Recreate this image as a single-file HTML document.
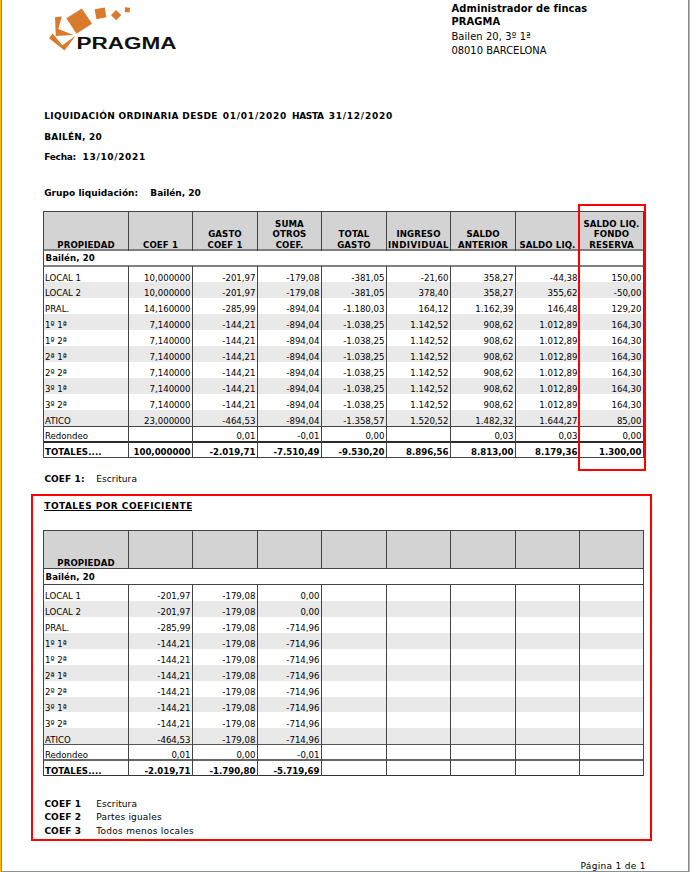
<!DOCTYPE html>
<html lang="es">
<head>
<meta charset="utf-8">
<title>Liquidación ordinaria</title>
<style>
html,body{margin:0;padding:0;background:#fff;}
body{width:690px;height:872px;position:relative;overflow:hidden;color:#000;}
#pg{position:absolute;left:0;top:0;width:690px;height:872px;overflow:hidden;background:#fff;}
#pg div{position:absolute;}
#pg span{position:absolute;white-space:pre;line-height:20px;margin-top:-13px;}
.t{font-family:"DejaVu Sans Condensed","DejaVu Sans","Liberation Sans",sans-serif;font-size:9.55px;}
.tb{font-family:"DejaVu Sans Condensed","DejaVu Sans","Liberation Sans",sans-serif;font-size:9.55px;font-weight:bold;letter-spacing:0.1px;}
.tb.n{letter-spacing:0;}
.h{font-family:"DejaVu Sans Condensed","DejaVu Sans","Liberation Sans",sans-serif;font-size:11px;}
.hb{font-family:"DejaVu Sans Condensed","DejaVu Sans","Liberation Sans",sans-serif;font-size:11px;font-weight:bold;}
.v{font-family:"DejaVu Sans","Liberation Sans",sans-serif;font-size:9px;}
.vb{font-family:"DejaVu Sans","Liberation Sans",sans-serif;font-size:9px;font-weight:bold;}
.red{border:2px solid #f00;box-sizing:border-box;}
svg{position:absolute;left:0;top:0;}
</style>
</head>
<body>
<div id="pg">
<div style="left:0px;top:0px;width:1px;height:872px;background:#feb808;"></div>
<div style="left:1px;top:0px;width:1px;height:872px;background:#808a9b;"></div>
<div style="left:688px;top:0px;width:1px;height:872px;background:#808a9b;"></div>
<div style="left:689px;top:0px;width:1px;height:872px;background:#feb80a;"></div>
<div style="left:1px;top:871px;width:688px;height:1px;background:#898f9b;"></div>
<svg width="200" height="70" viewBox="0 0 200 70">
<g fill="#d97a2c">
<polygon points="81.7,8.9 91.6,23.6 76.6,33.3 66.8,18.4" stroke="#d97a2c" stroke-width="0.8" stroke-linejoin="round"/>
<polygon points="94.6,9.2 104.8,7.4 106.3,17.3 96.5,19.3"/>
<polygon points="115.9,9.9 121.3,14.9 116.2,20.2 111.0,15.2"/>
<polygon points="125.0,7.2 130.0,7.7 129.6,12.6 124.8,12.1"/>
<polygon points="55.0,17.3 61.9,16.5 58.3,28.9 73.3,34.9 55.8,35.9"/>
<polygon points="52.6,33.4 49.0,38.2 64.5,50.4 75.6,35.8 62.3,45.3"/>
</g>
<text x="76.4" y="48.5" font-family="Liberation Sans, sans-serif" font-weight="bold" font-size="15.6" fill="#111" textLength="100.2" lengthAdjust="spacingAndGlyphs">PRAGMA</text>
</svg>
<span class="hb" style="left:451.6px;letter-spacing:0.085px;top:11.5px;">Administrador de fincas</span>
<span class="hb" style="left:451.4px;letter-spacing:0.144px;top:25.4px;">PRAGMA</span>
<span class="h" style="left:451.4px;letter-spacing:0.102px;top:39.8px;">Bailen 20, 3º 1ª</span>
<span class="h" style="left:451.4px;letter-spacing:0.031px;top:53.7px;">08010 BARCELONA</span>
<span class="vb" style="left:44.2px;letter-spacing:0.353px;top:118.8px;">LIQUIDACIÓN ORDINARIA DESDE</span>
<span class="vb" style="left:222.7px;letter-spacing:0.772px;top:118.8px;">01/01/2020</span>
<span class="vb" style="left:292.0px;letter-spacing:-0.348px;top:118.8px;">HASTA</span>
<span class="vb" style="left:328.7px;letter-spacing:0.761px;top:118.8px;">31/12/2020</span>
<span class="vb" style="left:44.2px;letter-spacing:0.204px;top:139.8px;">BAILÉN, 20</span>
<span class="vb" style="left:44.2px;letter-spacing:-0.26px;top:160.1px;">Fecha:</span>
<span class="vb" style="left:82.6px;letter-spacing:0.661px;top:160.1px;">13/10/2021</span>
<span class="vb" style="left:44.2px;letter-spacing:0.045px;top:196.2px;">Grupo liquidación:</span>
<span class="vb" style="left:150.3px;letter-spacing:-0.03px;top:196.2px;">Bailén, 20</span>
<div style="left:43px;top:211px;width:601px;height:39px;background:#d3d3d3;"></div>
<div style="left:43px;top:282px;width:601px;height:16px;background:#e9e9e9;"></div>
<div style="left:43px;top:314px;width:601px;height:16px;background:#e9e9e9;"></div>
<div style="left:43px;top:346px;width:601px;height:16px;background:#e9e9e9;"></div>
<div style="left:43px;top:378px;width:601px;height:16px;background:#e9e9e9;"></div>
<div style="left:43px;top:410px;width:601px;height:16px;background:#e9e9e9;"></div>
<div style="left:43px;top:211px;width:601px;height:1px;background:#444;"></div>
<div style="left:43px;top:249px;width:601px;height:2px;background:#808080;"></div>
<div style="left:43px;top:265px;width:601px;height:2px;background:#808080;"></div>
<div style="left:43px;top:426px;width:601px;height:1px;background:#444;"></div>
<div style="left:43px;top:441px;width:601px;height:2px;background:#2a2a2a;"></div>
<div style="left:43px;top:457px;width:601px;height:1px;background:#444;"></div>
<div style="left:43px;top:211px;width:1px;height:247px;background:#444;"></div>
<div style="left:128px;top:211px;width:1px;height:40px;background:#444;"></div>
<div style="left:128px;top:266px;width:1px;height:192px;background:#444;"></div>
<div style="left:192px;top:211px;width:1px;height:40px;background:#444;"></div>
<div style="left:192px;top:266px;width:1px;height:192px;background:#444;"></div>
<div style="left:257px;top:211px;width:1px;height:40px;background:#444;"></div>
<div style="left:257px;top:266px;width:1px;height:192px;background:#444;"></div>
<div style="left:321px;top:211px;width:1px;height:40px;background:#444;"></div>
<div style="left:321px;top:266px;width:1px;height:192px;background:#444;"></div>
<div style="left:386px;top:211px;width:1px;height:40px;background:#444;"></div>
<div style="left:386px;top:266px;width:1px;height:192px;background:#444;"></div>
<div style="left:450px;top:211px;width:1px;height:40px;background:#444;"></div>
<div style="left:450px;top:266px;width:1px;height:192px;background:#444;"></div>
<div style="left:515px;top:211px;width:1px;height:40px;background:#444;"></div>
<div style="left:515px;top:266px;width:1px;height:192px;background:#444;"></div>
<div style="left:579px;top:211px;width:1px;height:40px;background:#444;"></div>
<div style="left:579px;top:266px;width:1px;height:192px;background:#444;"></div>
<div style="left:643px;top:211px;width:1px;height:247px;background:#444;"></div>
<span class="tb" style="left:-14.0px;width:200px;text-align:center;top:248px;">PROPIEDAD</span>
<span class="tb" style="left:60.5px;width:200px;text-align:center;top:248px;">COEF 1</span>
<span class="tb" style="left:125.0px;width:200px;text-align:center;top:237px;">GASTO</span>
<span class="tb" style="left:125.0px;width:200px;text-align:center;top:248px;">COEF 1</span>
<span class="tb" style="left:189.5px;width:200px;text-align:center;top:226.6px;">SUMA</span>
<span class="tb" style="left:189.5px;width:200px;text-align:center;top:237px;">OTROS</span>
<span class="tb" style="left:189.5px;width:200px;text-align:center;top:248px;">COEF.</span>
<span class="tb" style="left:254.0px;width:200px;text-align:center;top:237px;">TOTAL</span>
<span class="tb" style="left:254.0px;width:200px;text-align:center;top:248px;">GASTO</span>
<span class="tb" style="left:318.5px;width:200px;text-align:center;top:237px;">INGRESO</span>
<span class="tb" style="left:318.5px;width:200px;text-align:center;letter-spacing:0.457px;top:248px;">INDIVIDUAL</span>
<span class="tb" style="left:383.0px;width:200px;text-align:center;top:237px;">SALDO</span>
<span class="tb" style="left:383.0px;width:200px;text-align:center;top:248px;">ANTERIOR</span>
<span class="tb" style="left:447.5px;width:200px;text-align:center;top:248px;">SALDO LIQ.</span>
<span class="tb" style="left:511.5px;width:200px;text-align:center;top:226.6px;">SALDO LIQ.</span>
<span class="tb" style="left:511.5px;width:200px;text-align:center;top:237px;">FONDO</span>
<span class="tb" style="left:511.5px;width:200px;text-align:center;top:248px;">RESERVA</span>
<span class="tb" style="left:45.5px;top:261px;">Bailén, 20</span>
<span class="t" style="left:45px;top:280.7px;">LOCAL 1</span>
<span class="t n" style="right:499.5px;top:280.7px;">10,000000</span>
<span class="t n" style="right:434.5px;top:280.7px;">-201,97</span>
<span class="t n" style="right:370.5px;top:280.7px;">-179,08</span>
<span class="t n" style="right:305.5px;top:280.7px;">-381,05</span>
<span class="t n" style="right:241.5px;top:280.7px;">-21,60</span>
<span class="t n" style="right:176.5px;top:280.7px;">358,27</span>
<span class="t n" style="right:112.5px;top:280.7px;">-44,38</span>
<span class="t n" style="right:48.5px;top:280.7px;">150,00</span>
<span class="t" style="left:45px;top:295.7px;">LOCAL 2</span>
<span class="t n" style="right:499.5px;top:295.7px;">10,000000</span>
<span class="t n" style="right:434.5px;top:295.7px;">-201,97</span>
<span class="t n" style="right:370.5px;top:295.7px;">-179,08</span>
<span class="t n" style="right:305.5px;top:295.7px;">-381,05</span>
<span class="t n" style="right:241.5px;top:295.7px;">378,40</span>
<span class="t n" style="right:176.5px;top:295.7px;">358,27</span>
<span class="t n" style="right:112.5px;top:295.7px;">355,62</span>
<span class="t n" style="right:48.5px;top:295.7px;">-50,00</span>
<span class="t" style="left:45px;top:311.8px;">PRAL.</span>
<span class="t n" style="right:499.5px;top:311.8px;">14,160000</span>
<span class="t n" style="right:434.5px;top:311.8px;">-285,99</span>
<span class="t n" style="right:370.5px;top:311.8px;">-894,04</span>
<span class="t n" style="right:305.5px;top:311.8px;">-1.180,03</span>
<span class="t n" style="right:241.5px;top:311.8px;">164,12</span>
<span class="t n" style="right:176.5px;top:311.8px;">1.162,39</span>
<span class="t n" style="right:112.5px;top:311.8px;">146,48</span>
<span class="t n" style="right:48.5px;top:311.8px;">129,20</span>
<span class="t" style="left:45px;top:327.7px;">1º 1ª</span>
<span class="t n" style="right:499.5px;top:327.7px;">7,140000</span>
<span class="t n" style="right:434.5px;top:327.7px;">-144,21</span>
<span class="t n" style="right:370.5px;top:327.7px;">-894,04</span>
<span class="t n" style="right:305.5px;top:327.7px;">-1.038,25</span>
<span class="t n" style="right:241.5px;top:327.7px;">1.142,52</span>
<span class="t n" style="right:176.5px;top:327.7px;">908,62</span>
<span class="t n" style="right:112.5px;top:327.7px;">1.012,89</span>
<span class="t n" style="right:48.5px;top:327.7px;">164,30</span>
<span class="t" style="left:45px;top:343.7px;">1º 2ª</span>
<span class="t n" style="right:499.5px;top:343.7px;">7,140000</span>
<span class="t n" style="right:434.5px;top:343.7px;">-144,21</span>
<span class="t n" style="right:370.5px;top:343.7px;">-894,04</span>
<span class="t n" style="right:305.5px;top:343.7px;">-1.038,25</span>
<span class="t n" style="right:241.5px;top:343.7px;">1.142,52</span>
<span class="t n" style="right:176.5px;top:343.7px;">908,62</span>
<span class="t n" style="right:112.5px;top:343.7px;">1.012,89</span>
<span class="t n" style="right:48.5px;top:343.7px;">164,30</span>
<span class="t" style="left:45px;top:359.6px;">2ª 1ª</span>
<span class="t n" style="right:499.5px;top:359.6px;">7,140000</span>
<span class="t n" style="right:434.5px;top:359.6px;">-144,21</span>
<span class="t n" style="right:370.5px;top:359.6px;">-894,04</span>
<span class="t n" style="right:305.5px;top:359.6px;">-1.038,25</span>
<span class="t n" style="right:241.5px;top:359.6px;">1.142,52</span>
<span class="t n" style="right:176.5px;top:359.6px;">908,62</span>
<span class="t n" style="right:112.5px;top:359.6px;">1.012,89</span>
<span class="t n" style="right:48.5px;top:359.6px;">164,30</span>
<span class="t" style="left:45px;top:375.6px;">2º 2ª</span>
<span class="t n" style="right:499.5px;top:375.6px;">7,140000</span>
<span class="t n" style="right:434.5px;top:375.6px;">-144,21</span>
<span class="t n" style="right:370.5px;top:375.6px;">-894,04</span>
<span class="t n" style="right:305.5px;top:375.6px;">-1.038,25</span>
<span class="t n" style="right:241.5px;top:375.6px;">1.142,52</span>
<span class="t n" style="right:176.5px;top:375.6px;">908,62</span>
<span class="t n" style="right:112.5px;top:375.6px;">1.012,89</span>
<span class="t n" style="right:48.5px;top:375.6px;">164,30</span>
<span class="t" style="left:45px;top:391.7px;">3º 1ª</span>
<span class="t n" style="right:499.5px;top:391.7px;">7,140000</span>
<span class="t n" style="right:434.5px;top:391.7px;">-144,21</span>
<span class="t n" style="right:370.5px;top:391.7px;">-894,04</span>
<span class="t n" style="right:305.5px;top:391.7px;">-1.038,25</span>
<span class="t n" style="right:241.5px;top:391.7px;">1.142,52</span>
<span class="t n" style="right:176.5px;top:391.7px;">908,62</span>
<span class="t n" style="right:112.5px;top:391.7px;">1.012,89</span>
<span class="t n" style="right:48.5px;top:391.7px;">164,30</span>
<span class="t" style="left:45px;top:407.9px;">3º 2ª</span>
<span class="t n" style="right:499.5px;top:407.9px;">7,140000</span>
<span class="t n" style="right:434.5px;top:407.9px;">-144,21</span>
<span class="t n" style="right:370.5px;top:407.9px;">-894,04</span>
<span class="t n" style="right:305.5px;top:407.9px;">-1.038,25</span>
<span class="t n" style="right:241.5px;top:407.9px;">1.142,52</span>
<span class="t n" style="right:176.5px;top:407.9px;">908,62</span>
<span class="t n" style="right:112.5px;top:407.9px;">1.012,89</span>
<span class="t n" style="right:48.5px;top:407.9px;">164,30</span>
<span class="t" style="left:45px;top:423.6px;">ATICO</span>
<span class="t n" style="right:499.5px;top:423.6px;">23,000000</span>
<span class="t n" style="right:434.5px;top:423.6px;">-464,53</span>
<span class="t n" style="right:370.5px;top:423.6px;">-894,04</span>
<span class="t n" style="right:305.5px;top:423.6px;">-1.358,57</span>
<span class="t n" style="right:241.5px;top:423.6px;">1.520,52</span>
<span class="t n" style="right:176.5px;top:423.6px;">1.482,32</span>
<span class="t n" style="right:112.5px;top:423.6px;">1.644,27</span>
<span class="t n" style="right:48.5px;top:423.6px;">85,00</span>
<span class="t" style="left:45px;top:438.9px;">Redondeo</span>
<span class="t n" style="right:434.5px;top:438.9px;">0,01</span>
<span class="t n" style="right:370.5px;top:438.9px;">-0,01</span>
<span class="t n" style="right:305.5px;top:438.9px;">0,00</span>
<span class="t n" style="right:176.5px;top:438.9px;">0,03</span>
<span class="t n" style="right:112.5px;top:438.9px;">0,03</span>
<span class="t n" style="right:48.5px;top:438.9px;">0,00</span>
<span class="tb" style="left:45px;top:454.7px;">TOTALES....</span>
<span class="tb n" style="right:499.5px;top:454.7px;">100,000000</span>
<span class="tb n" style="right:434.5px;top:454.7px;">-2.019,71</span>
<span class="tb n" style="right:370.5px;top:454.7px;">-7.510,49</span>
<span class="tb n" style="right:305.5px;top:454.7px;">-9.530,20</span>
<span class="tb n" style="right:241.5px;top:454.7px;">8.896,56</span>
<span class="tb n" style="right:176.5px;top:454.7px;">8.813,00</span>
<span class="tb n" style="right:112.5px;top:454.7px;">8.179,36</span>
<span class="tb n" style="right:48.5px;top:454.7px;">1.300,00</span>
<span class="vb" style="left:44.4px;letter-spacing:0.091px;top:481.5px;">COEF 1:</span>
<span class="v" style="left:96.3px;letter-spacing:0.08px;top:481.5px;">Escritura</span>
<div class="red" style="left:578px;top:204px;width:68px;height:267px;"></div>
<div class="red" style="left:31px;top:494px;width:621px;height:347px;"></div>
<span class="vb" style="left:44.3px;letter-spacing:0.462px;top:508.9px;">TOTALES POR COEFICIENTE</span>
<div style="left:44px;top:510px;width:148px;height:1px;background:#000;"></div>
<div style="left:43px;top:530px;width:601px;height:38px;background:#d3d3d3;"></div>
<div style="left:43px;top:601px;width:601px;height:16px;background:#e9e9e9;"></div>
<div style="left:43px;top:633px;width:601px;height:16px;background:#e9e9e9;"></div>
<div style="left:43px;top:665px;width:601px;height:16px;background:#e9e9e9;"></div>
<div style="left:43px;top:697px;width:601px;height:15px;background:#e9e9e9;"></div>
<div style="left:43px;top:728px;width:601px;height:16px;background:#e9e9e9;"></div>
<div style="left:43px;top:530px;width:601px;height:1px;background:#444;"></div>
<div style="left:43px;top:568px;width:601px;height:1px;background:#444;"></div>
<div style="left:43px;top:584px;width:601px;height:1px;background:#444;"></div>
<div style="left:43px;top:744px;width:601px;height:1px;background:#555;"></div>
<div style="left:43px;top:759px;width:601px;height:2px;background:#666;"></div>
<div style="left:43px;top:775px;width:601px;height:1px;background:#333;"></div>
<div style="left:43px;top:530px;width:1px;height:246px;background:#444;"></div>
<div style="left:128px;top:530px;width:1px;height:39px;background:#444;"></div>
<div style="left:128px;top:584px;width:1px;height:192px;background:#444;"></div>
<div style="left:192px;top:530px;width:1px;height:39px;background:#444;"></div>
<div style="left:192px;top:584px;width:1px;height:192px;background:#444;"></div>
<div style="left:257px;top:530px;width:1px;height:39px;background:#444;"></div>
<div style="left:257px;top:584px;width:1px;height:192px;background:#444;"></div>
<div style="left:321px;top:530px;width:1px;height:39px;background:#444;"></div>
<div style="left:321px;top:584px;width:1px;height:192px;background:#444;"></div>
<div style="left:386px;top:530px;width:1px;height:39px;background:#444;"></div>
<div style="left:386px;top:584px;width:1px;height:192px;background:#444;"></div>
<div style="left:450px;top:530px;width:1px;height:39px;background:#444;"></div>
<div style="left:450px;top:584px;width:1px;height:192px;background:#444;"></div>
<div style="left:515px;top:530px;width:1px;height:39px;background:#444;"></div>
<div style="left:515px;top:584px;width:1px;height:192px;background:#444;"></div>
<div style="left:579px;top:530px;width:1px;height:39px;background:#444;"></div>
<div style="left:579px;top:584px;width:1px;height:192px;background:#444;"></div>
<div style="left:643px;top:530px;width:1px;height:246px;background:#444;"></div>
<span class="tb" style="left:-14.0px;width:200px;text-align:center;top:565.9px;">PROPIEDAD</span>
<span class="tb" style="left:45.5px;top:580.0px;">Bailén, 20</span>
<span class="t" style="left:45px;top:598.9px;">LOCAL 1</span>
<span class="t n" style="right:499.5px;top:598.9px;">-201,97</span>
<span class="t n" style="right:434.5px;top:598.9px;">-179,08</span>
<span class="t n" style="right:370.5px;top:598.9px;">0,00</span>
<span class="t" style="left:45px;top:614.7px;">LOCAL 2</span>
<span class="t n" style="right:499.5px;top:614.7px;">-201,97</span>
<span class="t n" style="right:434.5px;top:614.7px;">-179,08</span>
<span class="t n" style="right:370.5px;top:614.7px;">0,00</span>
<span class="t" style="left:45px;top:630.8px;">PRAL.</span>
<span class="t n" style="right:499.5px;top:630.8px;">-285,99</span>
<span class="t n" style="right:434.5px;top:630.8px;">-179,08</span>
<span class="t n" style="right:370.5px;top:630.8px;">-714,96</span>
<span class="t" style="left:45px;top:646.9px;">1º 1ª</span>
<span class="t n" style="right:499.5px;top:646.9px;">-144,21</span>
<span class="t n" style="right:434.5px;top:646.9px;">-179,08</span>
<span class="t n" style="right:370.5px;top:646.9px;">-714,96</span>
<span class="t" style="left:45px;top:662.8px;">1º 2ª</span>
<span class="t n" style="right:499.5px;top:662.8px;">-144,21</span>
<span class="t n" style="right:434.5px;top:662.8px;">-179,08</span>
<span class="t n" style="right:370.5px;top:662.8px;">-714,96</span>
<span class="t" style="left:45px;top:678.9px;">2ª 1ª</span>
<span class="t n" style="right:499.5px;top:678.9px;">-144,21</span>
<span class="t n" style="right:434.5px;top:678.9px;">-179,08</span>
<span class="t n" style="right:370.5px;top:678.9px;">-714,96</span>
<span class="t" style="left:45px;top:694.8px;">2º 2ª</span>
<span class="t n" style="right:499.5px;top:694.8px;">-144,21</span>
<span class="t n" style="right:434.5px;top:694.8px;">-179,08</span>
<span class="t n" style="right:370.5px;top:694.8px;">-714,96</span>
<span class="t" style="left:45px;top:710.7px;">3º 1ª</span>
<span class="t n" style="right:499.5px;top:710.7px;">-144,21</span>
<span class="t n" style="right:434.5px;top:710.7px;">-179,08</span>
<span class="t n" style="right:370.5px;top:710.7px;">-714,96</span>
<span class="t" style="left:45px;top:726.6px;">3º 2ª</span>
<span class="t n" style="right:499.5px;top:726.6px;">-144,21</span>
<span class="t n" style="right:434.5px;top:726.6px;">-179,08</span>
<span class="t n" style="right:370.5px;top:726.6px;">-714,96</span>
<span class="t" style="left:45px;top:742.5px;">ATICO</span>
<span class="t n" style="right:499.5px;top:742.5px;">-464,53</span>
<span class="t n" style="right:434.5px;top:742.5px;">-179,08</span>
<span class="t n" style="right:370.5px;top:742.5px;">-714,96</span>
<span class="t" style="left:45px;top:757.8px;">Redondeo</span>
<span class="t n" style="right:499.5px;top:757.8px;">0,01</span>
<span class="t n" style="right:434.5px;top:757.8px;">0,00</span>
<span class="t n" style="right:370.5px;top:757.8px;">-0,01</span>
<span class="tb" style="left:45px;top:773.6px;">TOTALES....</span>
<span class="tb n" style="right:499.5px;top:773.6px;">-2.019,71</span>
<span class="tb n" style="right:434.5px;top:773.6px;">-1.790,80</span>
<span class="tb n" style="right:370.5px;top:773.6px;">-5.719,69</span>
<span class="vb" style="left:44.4px;letter-spacing:0.129px;top:806.6px;">COEF 1</span>
<span class="v" style="left:96.3px;letter-spacing:0.08px;top:806.6px;">Escritura</span>
<span class="vb" style="left:44.4px;letter-spacing:0.129px;top:819.9px;">COEF 2</span>
<span class="v" style="left:96.3px;letter-spacing:0.177px;top:819.9px;">Partes iguales</span>
<span class="vb" style="left:44.4px;letter-spacing:0.129px;top:833.6px;">COEF 3</span>
<span class="v" style="left:96.3px;letter-spacing:0.269px;top:833.6px;">Todos menos locales</span>
<span class="v" style="left:580.5px;letter-spacing:0.313px;top:868.6px;">Página 1 de 1</span>
</div>
</body>
</html>
